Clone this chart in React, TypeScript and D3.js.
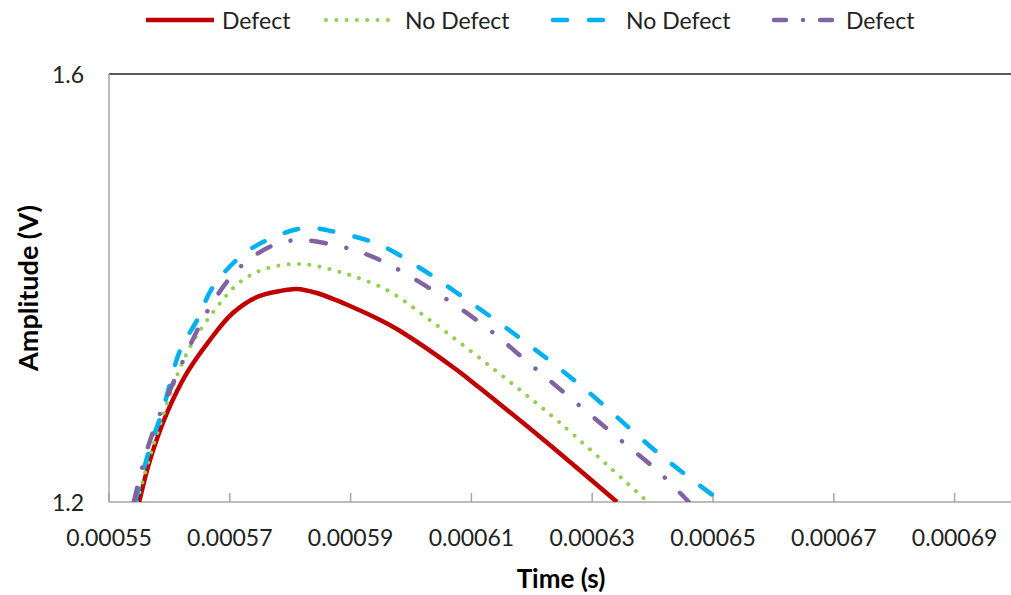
import React from "react";
import * as d3 from "d3";

const W = 1011;
const H = 595;

const xTicks = [0.00055, 0.00057, 0.00059, 0.00061, 0.00063, 0.00065, 0.00067, 0.00069];
const yTicks = [1.2, 1.6];

const redT = [0.000555, 0.0005568, 0.0005596, 0.0005629, 0.0005667, 0.0005705, 0.0005745, 0.0005783, 0.0005811, 0.0005844, 0.0005899, 0.0005949, 0.0005982, 0.0006076, 0.0006114, 0.0006214, 0.0006341];
const redV = [1.2, 1.2393, 1.2832, 1.3206, 1.3514, 1.3766, 1.3916, 1.3972, 1.3991, 1.3953, 1.3832, 1.3701, 1.3598, 1.3234, 1.3065, 1.2607, 1.2];

const greenT = [0.0005546, 0.000558, 0.0005629, 0.0005675, 0.0005717, 0.0005758, 0.0005816, 0.0005882, 0.000596, 0.0006031, 0.0006139, 0.0006247, 0.0006392];
const greenV = [1.2, 1.2645, 1.3393, 1.3794, 1.4056, 1.4178, 1.4224, 1.415, 1.3981, 1.3701, 1.3234, 1.2738, 1.2];

const blueT = [0.0005543, 0.0005568, 0.0005589, 0.0005618, 0.0005646, 0.0005672, 0.0005717, 0.0005762, 0.0005825, 0.0005882, 0.0005949, 0.0006015, 0.0006081, 0.000618, 0.000628, 0.0006417, 0.0006515];
const blueV = [1.2, 1.2514, 1.286, 1.3421, 1.3701, 1.4009, 1.429, 1.4449, 1.4561, 1.4514, 1.4402, 1.4187, 1.3935, 1.3533, 1.3093, 1.2421, 1.2];

const purpleT = [0.0005541, 0.0005568, 0.0005618, 0.0005667, 0.0005712, 0.000575, 0.0005783, 0.0005816, 0.0005866, 0.0005916, 0.0005965, 0.0006048, 0.0006126, 0.0006197, 0.0006268, 0.0006341, 0.0006412, 0.000646];
const purpleV = [1.2, 1.2575, 1.3262, 1.3822, 1.4168, 1.4336, 1.4421, 1.4449, 1.4411, 1.4336, 1.4215, 1.3935, 1.3626, 1.329, 1.2953, 1.2607, 1.2271, 1.2];

const seriesNames = ["Defect", "No Defect", "No Defect", "Defect"];

export default function App() {
  const left = 109, right = 1015, top = 74, bottom = 502;
  const x = d3.scaleLinear().domain([0.00055, 0.0007]).range([left, right]);
  const y = d3.scaleLinear().domain([1.2, 1.6]).range([bottom, top]);
  const line = d3
    .line<[number, number]>()
    .x((d) => x(d[0]))
    .y((d) => y(d[1]))
    .curve(d3.curveCatmullRom.alpha(0.5));
  const zip = (t: number[], v: number[]) => t.map((tt, i) => [tt, v[i]] as [number, number]);

  const series = [
    { name: seriesNames[0], data: zip(redT, redV), color: "#c00000", width: 4.5, dash: undefined as string | undefined, cap: "butt" },
    { name: seriesNames[1], data: zip(greenT, greenV), color: "#92d050", width: 4, dash: "0.01 10.3", cap: "round" },
    { name: seriesNames[2], data: zip(blueT, blueV), color: "#00b0f0", width: 4.5, dash: "14 21.7", cap: "round" },
    { name: seriesNames[3], data: zip(purpleT, purpleV), color: "#8064a2", width: 4.5, dash: "14.5 21 0.01 21", cap: "round" },
  ];

  const legendItems = [
    { x1: 146, x2: 214, tx: 222 },
    { x1: 326, x2: 395, tx: 405 },
    { x1: 553, x2: 606, tx: 626 },
    { x1: 774, x2: 842, tx: 846 },
  ];
  const legendDash = [undefined, "0.01 10.3", "14 22", "12 17 0.01 17"];

  const font = "Lato, 'Open Sans', sans-serif";

  return (
    <svg width={W} height={H} style={{ position: "absolute", left: 0, top: 0, background: "#fff" }} fontFamily={font}>
      <defs>
        <clipPath id="plot">
          <rect x={left} y={top} width={right - left} height={bottom - top} />
        </clipPath>
      </defs>
      <rect x={0} y={0} width={W} height={H} fill="#fff" />
      <line x1={left} x2={W} y1={top} y2={top} stroke="#595959" strokeWidth={2} />
      <line x1={left} x2={left} y1={top} y2={bottom} stroke="#a6a6a6" strokeWidth={1.5} />
      <line x1={left} x2={W} y1={bottom} y2={bottom} stroke="#a6a6a6" strokeWidth={1.5} />
      {xTicks.map((t) => (
        <g key={t}>
          <line x1={x(t)} x2={x(t)} y1={bottom} y2={bottom - 9} stroke="#a6a6a6" strokeWidth={1.5} />
          <text x={x(t)} y={537} textAnchor="middle" dominantBaseline="central" fontSize={23} fill="#222">
            {t.toFixed(5)}
          </text>
        </g>
      ))}
      {yTicks.map((v) => (
        <text key={v} x={84} y={y(v)} textAnchor="end" dominantBaseline="central" fontSize={23} fill="#222">
          {v.toFixed(1)}
        </text>
      ))}
      <g clipPath="url(#plot)">
        {series.map((s, i) => (
          <path
            key={i}
            d={line(s.data) || ""}
            fill="none"
            stroke={s.color}
            strokeWidth={s.width}
            strokeDasharray={s.dash}
            strokeLinecap={s.cap as any}
            strokeLinejoin="round"
          />
        ))}
      </g>
      <text x={561} y={578} textAnchor="middle" dominantBaseline="central" fontSize={26} fontWeight="bold" fill="#000">
        Time (s)
      </text>
      <text
        transform={`translate(27, ${(top + bottom) / 2}) rotate(-90)`}
        textAnchor="middle"
        dominantBaseline="central"
        fontSize={27}
        fontWeight="bold"
        fill="#000"
      >
        Amplitude (V)
      </text>
      {series.map((s, i) => (
        <g key={"lg" + i}>
          <line
            x1={legendItems[i].x1}
            x2={legendItems[i].x2}
            y1={20}
            y2={20}
            stroke={s.color}
            strokeWidth={s.width}
            strokeDasharray={legendDash[i]}
            strokeLinecap={s.cap as any}
          />
          <text x={legendItems[i].tx} y={20} dominantBaseline="central" fontSize={23} fill="#222">
            {s.name}
          </text>
        </g>
      ))}
    </svg>
  );
}
